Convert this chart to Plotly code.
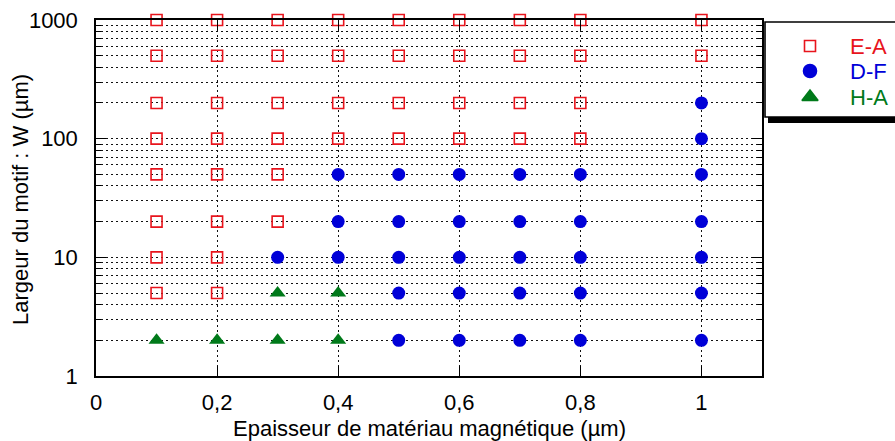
import plotly.graph_objects as go

# Epaisseur (µm) / largeur (µm) par régime observé
ea_x = [0.1]*8 + [0.2]*8 + [0.3]*6 + [0.4]*4 + [0.5]*4 + [0.6]*4 + [0.7]*4 + [0.8]*4 + [1.0]*2
ea_w = ([1000, 500, 200, 100, 50, 20, 10, 5] * 2
        + [1000, 500, 200, 100, 50, 20]
        + [1000, 500, 200, 100] * 5
        + [1000, 500])

df_x = [0.3] + [0.4]*3 + [0.5]*5 + [0.6]*5 + [0.7]*5 + [0.8]*5 + [1.0]*7
df_w = ([10] + [50, 20, 10]
        + [50, 20, 10, 5, 2] * 4
        + [200, 100, 50, 20, 10, 5, 2])

ha_x = [0.1, 0.2, 0.3, 0.3, 0.4, 0.4]
ha_w = [2, 2, 5, 2, 5, 2]

series_names = ["E-A", "D-F", "H-A"]
series_colors = ["#e8141c", "#0000d8", "#007a1a"]

x_ticks = [0, 0.2, 0.4, 0.6, 0.8, 1.0]
x_ticktext = ["0", "0,2", "0,4", "0,6", "0,8", "1"]
y_ticks = [1, 10, 100, 1000]
y_minor = [m * 10**k for k in range(3) for m in range(2, 10)]

W, H = 895, 441
L, R, T, B = 96, 762, 20, 376
FONT = "Liberation Sans, Arial, sans-serif"
FS = 22

fig = go.Figure()

fig.add_trace(go.Scatter(
    x=ea_x, y=ea_w, mode="markers", name=series_names[0], cliponaxis=False,
    marker=dict(symbol="square-open", size=11, color=series_colors[0],
                line=dict(width=1.6, color=series_colors[0]))))
fig.add_trace(go.Scatter(
    x=df_x, y=df_w, mode="markers", name=series_names[1], cliponaxis=False,
    marker=dict(symbol="circle", size=13, color=series_colors[1])))
fig.add_trace(go.Scatter(
    x=ha_x, y=ha_w, mode="markers", name=series_names[2], cliponaxis=False,
    marker=dict(symbol="triangle-up", size=14, color=series_colors[2])))

# legend box (drawn on its own small axis pair)
lg_left, lg_top, lg_bottom = 765, 22, 117
leg_rows = [46, 71, 97]
leg_symbols = ["square-open", "circle", "triangle-up"]
leg_sizes = [11, 13, 14]
for name, col, sym, sz, yy in zip(series_names, series_colors, leg_symbols, leg_sizes, leg_rows):
    fig.add_trace(go.Scatter(
        x=[810], y=[yy], mode="markers", xaxis="x2", yaxis="y2", showlegend=False,
        cliponaxis=False,
        marker=dict(symbol=sym, size=sz, color=col, line=dict(width=1.6, color=col)),
        hoverinfo="skip"))
    fig.add_annotation(x=848, y=yy, xref="x2", yref="y2", text=name, showarrow=False,
                       xanchor="left", yanchor="middle",
                       font=dict(family=FONT, size=FS, color=col))

# shadow + white box
fig.add_shape(type="rect", xref="paper", yref="paper", layer="below",
              x0=(lg_left + 3) / W, x1=1.05, y0=1 - (lg_bottom + 6) / H, y1=1 - (lg_top + 5) / H,
              fillcolor="black", line=dict(width=0))
fig.add_shape(type="rect", xref="paper", yref="paper", layer="below",
              x0=lg_left / W, x1=1.02, y0=1 - lg_bottom / H, y1=1 - lg_top / H,
              fillcolor="white", line=dict(width=1.6, color="black"))

grid = dict(gridcolor="#111111", griddash="2px,3px", gridwidth=1)

fig.update_layout(
    width=W, height=H,
    margin=dict(l=0, r=0, t=0, b=0),
    paper_bgcolor="white", plot_bgcolor="rgba(0,0,0,0)",
    showlegend=False,
    font=dict(family=FONT, size=FS, color="black"),
    xaxis=dict(domain=[L / W, R / W], range=[0, 1.1], autorange=False,
               tickvals=x_ticks, ticktext=x_ticktext,
               ticks="inside", ticklen=10, tickcolor="black", tickwidth=1,
               showline=True, linecolor="black", linewidth=1.5, mirror="ticks",
               showgrid=True, zeroline=False, automargin=False,
               ticklabelstandoff=6, **grid),
    yaxis=dict(domain=[1 - B / H, 1 - T / H], type="log", range=[0, 3], autorange=False,
               tickvals=y_ticks, ticktext=[str(v) for v in y_ticks],
               ticks="inside", ticklen=10, tickcolor="black", tickwidth=1,
               showline=True, linecolor="black", linewidth=1.5, mirror="ticks",
               showgrid=True, zeroline=False, automargin=False,
               ticklabelstandoff=12,
               minor=dict(tickmode="array", tickvals=y_minor, ticks="inside", ticklen=5,
                          tickcolor="black", showgrid=True, **grid),
               **grid),
    xaxis2=dict(domain=[0, 1], range=[0, W], visible=False, fixedrange=True),
    yaxis2=dict(domain=[0, 1], range=[H, 0], visible=False, fixedrange=True, anchor="x2"),
)

fig.add_annotation(x=(L + R) / 2 / W, y=1 - 428 / H, xref="paper", yref="paper",
                   text="Epaisseur de matériau magnétique (µm)", showarrow=False,
                   xanchor="center", yanchor="middle", font=dict(family=FONT, size=FS))
fig.add_annotation(x=20 / W, y=1 - 200 / H, xref="paper", yref="paper",
                   text="Largeur du motif : W (µm)", showarrow=False, textangle=-90,
                   xanchor="center", yanchor="middle", font=dict(family=FONT, size=FS))

fig.write_html("out.html")
